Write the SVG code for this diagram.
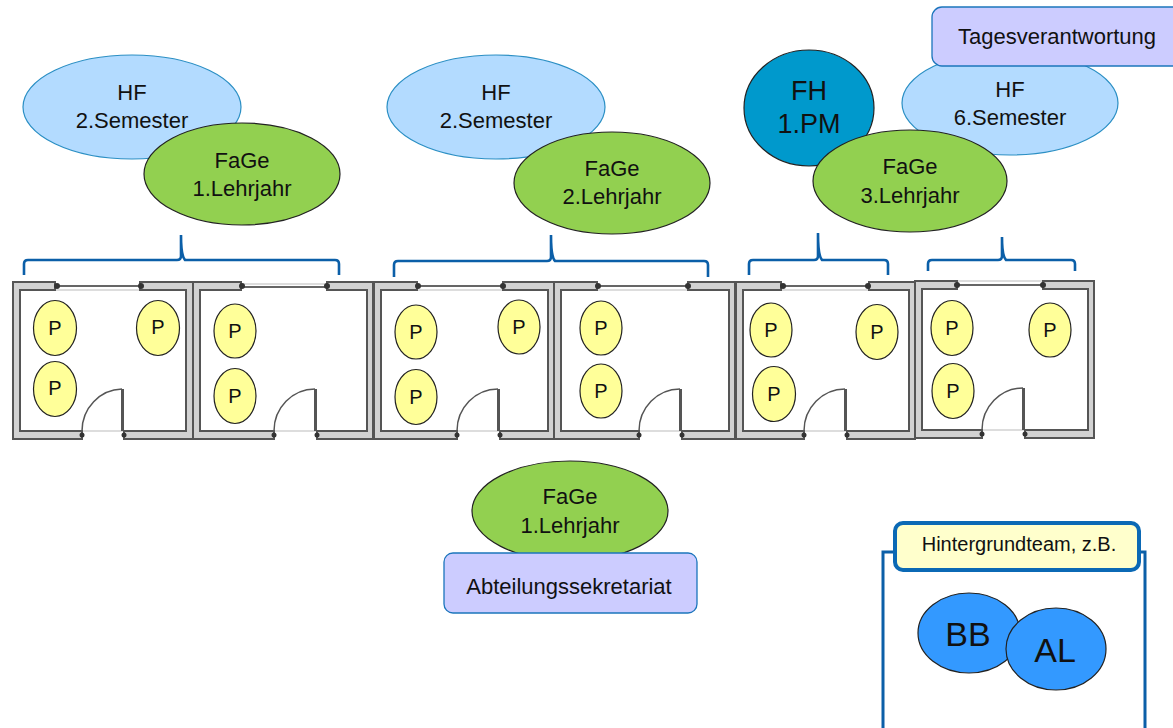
<svg xmlns="http://www.w3.org/2000/svg" width="1173" height="728" viewBox="0 0 1173 728">
<style>
text{font-family:"Liberation Sans",Arial,sans-serif;text-anchor:middle;fill:#111}
.t{font-size:22px}
.p{font-size:20px}
.e{stroke:#222;stroke-width:1.2}
.hf{fill:#b3dbff;stroke:#2b8fc4;stroke-width:1.2}
.fage{fill:#92d050}
.fh{fill:#0099cc}
.pe{fill:#ffff99}
.bl{fill:#3399ff}
.lab{fill:#ccccff;stroke:#1b75bc;stroke-width:1.3}
.wall{fill:#d2d2d2;stroke:#555;stroke-width:2;stroke-linejoin:miter}
.win{fill:none;stroke:#666;stroke-width:2}
.sill{fill:none;stroke:#ddd;stroke-width:2}
.door{fill:none;stroke:#555;stroke-width:1.5}
.leaf{fill:none;stroke:#555;stroke-width:3}
.knob{fill:#333}
.br{fill:none;stroke:#0b5fa8;stroke-width:2.6}
.hg{fill:none;stroke:#0b5fa8;stroke-width:3}
.hgl{fill:#ffffcc;stroke:#0b69b5;stroke-width:4}
</style>
<g id="connectors">
<path class="br" d="M24 275V264Q24 260 28 260H177Q181 260 181 256V235Q181 256 185 260H335Q339 260 339 264V275"/>
<path class="br" d="M394 277V265Q394 261 398 261H547Q551 261 551 257V235Q551 257 555 261H704Q708 261 708 265V277"/>
<path class="br" d="M749 275V264Q749 260 753 260H814Q818 260 818 256V233Q818 256 822 260H884Q888 260 888 264V275"/>
<path class="br" d="M928 271V264Q928 260 932 260H998Q1002 260 1002 256V237Q1002 256 1006 260H1071Q1075 260 1075 264V271"/>
</g>
<g id="room1">
<path class="sill" d="M55 290H140M82 431H124"/><path class="win" d="M55 286H140"/>
<path class="wall" d="M82 439H13V282H55V290H20V431H82Z"/><path class="wall" d="M140 282H193V439H124V431H186V290H140Z"/>
<path class="door" d="M82 431A41 42 0 0 1 122 389"/><path class="leaf" d="M122.500 389V431"/>
<circle class="knob" cx="57" cy="286" r="3"/><circle class="knob" cx="141" cy="286" r="3"/><circle class="knob" cx="82" cy="435" r="2.500"/><circle class="knob" cx="124" cy="435" r="2.500"/>
</g>
<g id="room2">
<path class="sill" d="M241 284H327M274 431H317"/><path class="win" d="M241 287H327"/>
<path class="wall" d="M274 439H193V282H241V290H200V431H274Z"/><path class="wall" d="M327 282H373V439H317V431H367V290H327Z"/>
<path class="door" d="M274 431A41 42 0 0 1 315 389"/><path class="leaf" d="M315.500 389V431"/>
<circle class="knob" cx="242" cy="286" r="3"/><circle class="knob" cx="327" cy="286" r="3"/><circle class="knob" cx="274" cy="435" r="2.500"/><circle class="knob" cx="317" cy="435" r="2.500"/>
</g>
<g id="room3">
<path class="sill" d="M417 290H503M457 431H500"/><path class="win" d="M417 286H503"/>
<path class="wall" d="M457 439H374V282H417V290H381V431H457Z"/><path class="wall" d="M503 282H554V439H500V431H548V290H503Z"/>
<path class="door" d="M457 431A41 42 0 0 1 498 389"/><path class="leaf" d="M498.500 389V431"/>
<circle class="knob" cx="418" cy="286" r="3"/><circle class="knob" cx="503" cy="286" r="3"/><circle class="knob" cx="457" cy="435" r="2.500"/><circle class="knob" cx="500" cy="435" r="2.500"/>
</g>
<g id="room4">
<path class="sill" d="M597 290H688M639 431H682"/><path class="win" d="M597 286H688"/>
<path class="wall" d="M639 439H554V282H597V290H561V431H639Z"/><path class="wall" d="M688 282H735V439H682V431H729V290H688Z"/>
<path class="door" d="M639 431A41 42 0 0 1 680 389"/><path class="leaf" d="M680.500 389V431"/>
<circle class="knob" cx="598" cy="286" r="3"/><circle class="knob" cx="688" cy="286" r="3"/><circle class="knob" cx="639" cy="435" r="2.500"/><circle class="knob" cx="682" cy="435" r="2.500"/>
</g>
<g id="room5">
<path class="sill" d="M781 290H869M804 431H847"/><path class="win" d="M781 286H869"/>
<path class="wall" d="M804 439H736V282H781V290H743V431H804Z"/><path class="wall" d="M869 282H915V439H847V431H909V290H869Z"/>
<path class="door" d="M804 431A41 42 0 0 1 845 389"/><path class="leaf" d="M845.500 389V431"/>
<circle class="knob" cx="783" cy="286" r="3"/><circle class="knob" cx="868" cy="286" r="3"/><circle class="knob" cx="804" cy="435" r="2.500"/><circle class="knob" cx="847" cy="435" r="2.500"/>
</g>
<g id="room6">
<path class="sill" d="M957 281H1043M982 430H1025"/><path class="win" d="M957 285H1043"/>
<path class="wall" d="M982 438H915V281H957V289H922V430H982Z"/><path class="wall" d="M1043 281H1094V438H1025V430H1088V289H1043Z"/>
<path class="door" d="M982 430A41 42 0 0 1 1023 388"/><path class="leaf" d="M1023.500 388V430"/>
<circle class="knob" cx="957" cy="285" r="3"/><circle class="knob" cx="1043" cy="285" r="3"/><circle class="knob" cx="982" cy="434" r="2.500"/><circle class="knob" cx="1025" cy="434" r="2.500"/>
</g>
<g id="p1"><ellipse class="e pe" cx="55" cy="328" rx="21.500" ry="27.500"/><text class="p" x="55" y="335">P</text></g>
<g id="p2"><ellipse class="e pe" cx="158" cy="328" rx="21.500" ry="27.500"/><text class="p" x="158" y="334">P</text></g>
<g id="p3"><ellipse class="e pe" cx="55" cy="389" rx="21.500" ry="27.500"/><text class="p" x="55" y="395">P</text></g>
<g id="p4"><ellipse class="e pe" cx="235" cy="331" rx="21" ry="27"/><text class="p" x="235" y="338">P</text></g>
<g id="p5"><ellipse class="e pe" cx="235" cy="396" rx="21" ry="27.500"/><text class="p" x="235" y="403">P</text></g>
<g id="p6"><ellipse class="e pe" cx="416" cy="332" rx="21" ry="27"/><text class="p" x="416" y="339">P</text></g>
<g id="p7"><ellipse class="e pe" cx="519" cy="327" rx="21" ry="27"/><text class="p" x="519" y="334">P</text></g>
<g id="p8"><ellipse class="e pe" cx="416" cy="397" rx="21" ry="27.500"/><text class="p" x="416" y="404">P</text></g>
<g id="p9"><ellipse class="e pe" cx="601" cy="328" rx="21" ry="27"/><text class="p" x="601" y="335">P</text></g>
<g id="p10"><ellipse class="e pe" cx="601" cy="391" rx="21" ry="27"/><text class="p" x="601" y="398">P</text></g>
<g id="p11"><ellipse class="e pe" cx="771" cy="330" rx="21" ry="27"/><text class="p" x="771" y="337">P</text></g>
<g id="p12"><ellipse class="e pe" cx="877" cy="332" rx="21" ry="27.500"/><text class="p" x="877" y="339">P</text></g>
<g id="p13"><ellipse class="e pe" cx="774" cy="394" rx="21.500" ry="27.500"/><text class="p" x="774" y="401">P</text></g>
<g id="p14"><ellipse class="e pe" cx="952" cy="328" rx="21" ry="27.500"/><text class="p" x="952" y="335">P</text></g>
<g id="p15"><ellipse class="e pe" cx="1050" cy="330" rx="21" ry="27"/><text class="p" x="1050" y="337">P</text></g>
<g id="p16"><ellipse class="e pe" cx="953" cy="391" rx="21" ry="27.500"/><text class="p" x="953" y="398">P</text></g>
<g id="hf1"><ellipse class="hf" cx="132" cy="107" rx="109" ry="52"/><text class="t" x="132" y="100">HF</text><text class="t" x="132" y="128">2.Semester</text></g>
<g id="fage1"><ellipse class="e fage" cx="242" cy="174" rx="98" ry="51"/><text class="t" x="242" y="168">FaGe</text><text class="t" x="242" y="196">1.Lehrjahr</text></g>
<g id="hf2"><ellipse class="hf" cx="496" cy="107" rx="109" ry="52"/><text class="t" x="496" y="100">HF</text><text class="t" x="496" y="128">2.Semester</text></g>
<g id="fage2"><ellipse class="e fage" cx="612" cy="183" rx="98" ry="51"/><text class="t" x="612" y="176">FaGe</text><text class="t" x="612" y="204">2.Lehrjahr</text></g>
<g id="hf3"><ellipse class="hf" cx="1010" cy="103" rx="108" ry="52"/><text class="t" x="1010" y="97">HF</text><text class="t" x="1010" y="125">6.Semester</text></g>
<g id="tages"><rect class="lab" x="932" y="7" width="260" height="59" rx="10"/><text class="t" x="1057" y="44">Tagesverantwortung</text></g>
<g id="fh"><ellipse class="e fh" cx="809" cy="108" rx="65" ry="58"/><text x="809" y="100" font-size="27">FH</text><text x="809" y="133" font-size="27">1.PM</text></g>
<g id="fage3"><ellipse class="e fage" cx="910" cy="181" rx="97" ry="51"/><text class="t" x="910" y="174">FaGe</text><text class="t" x="910" y="203">3.Lehrjahr</text></g>
<g id="fage4"><ellipse class="e fage" cx="570" cy="511" rx="98" ry="50"/><text class="t" x="570" y="504">FaGe</text><text class="t" x="570" y="533">1.Lehrjahr</text></g>
<g id="sek"><rect class="lab" x="444" y="553" width="253" height="60" rx="9"/><text class="t" x="569" y="594">Abteilungssekretariat</text></g>
<g id="hintergrund"><path class="hg" d="M883 728V552H1145V728"/><rect class="hgl" x="895" y="523" width="244" height="47" rx="8"/><text x="1019" y="551" font-size="20">Hintergrundteam, z.B.</text></g>
<g id="bb"><ellipse class="e bl" cx="969" cy="633" rx="51" ry="40"/><text x="968" y="646" font-size="34">BB</text></g>
<g id="al"><ellipse class="e bl" cx="1056" cy="649" rx="50" ry="41"/><text x="1055" y="662" font-size="34">AL</text></g>
</svg>
